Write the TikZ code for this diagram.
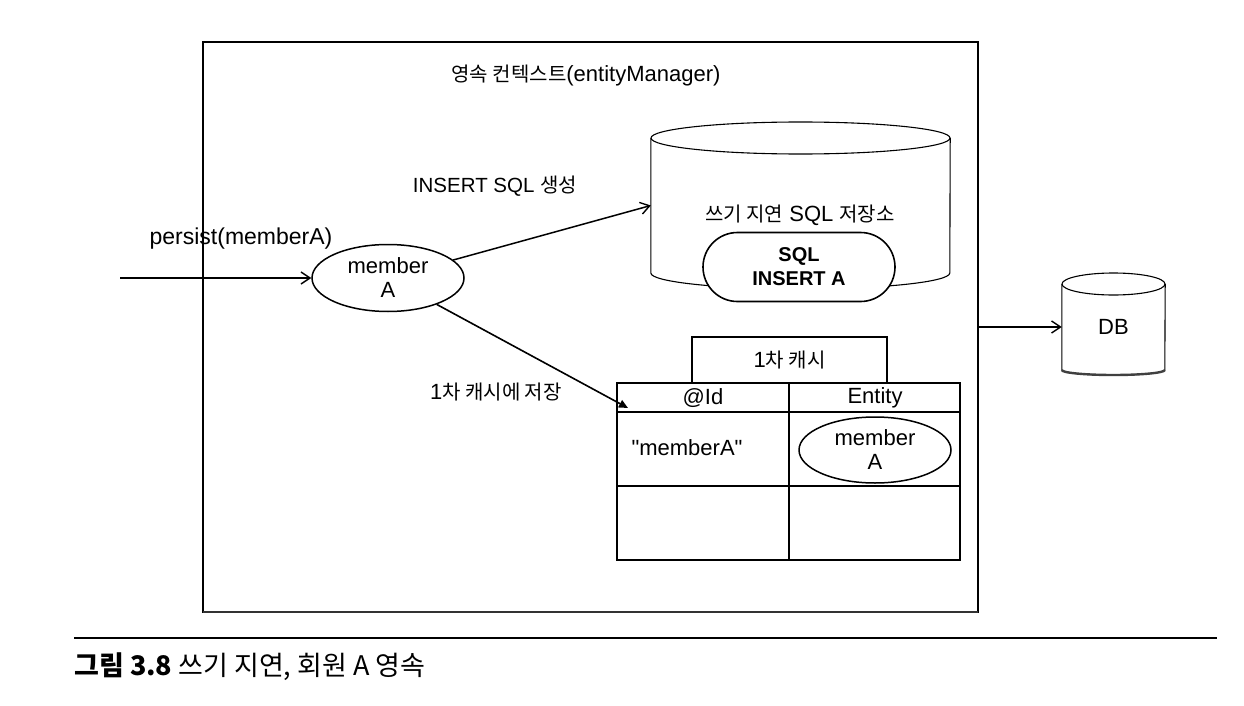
\documentclass[tikz,border=0pt]{standalone}
\usepackage{fontspec}
\setmainfont{Liberation Sans}
\newfontfamily\krfont{Noto Sans CJK KR}
\usetikzlibrary{arrows.meta,shapes.geometric,shapes.misc}
\newcommand\kor[1]{{\krfont\fontsize{20pt}{24pt}\selectfont #1}}

\begin{document}
\begin{tikzpicture}[x=1pt,y=-1pt,
  every node/.style={font=\fontsize{22pt}{24pt}\selectfont, inner sep=0pt, align=center},
  line/.style={line width=1.6pt},
  thinline/.style={line width=1.1pt},
  arr/.style={line width=1.5pt, -{Straight Barb[length=9pt,width=12pt,line width=1.4pt]}},
  ov/.style={ellipse, draw, line width=1.5pt, minimum width=152pt, minimum height=67pt},
]
\useasboundingbox (0,0) rectangle (1244,706);
\fill[white] (0,0) rectangle (1244,706);

% persistence context box
\node[draw, line, minimum width=775pt, minimum height=570pt] (ctx) at (590.5,327) {};
\draw[line width=2.6pt, black!80] (203,612) -- (978,612);
\node (title) at (586,76) {\kor{영속 컨텍스트}(entityManager)};

% write-behind SQL store (cylinder)
\node[minimum width=299pt, minimum height=167pt] (store) at (800.5,205.5) {};
\draw[thinline] (store.west |- 0,138) -- (store.west |- 0,273)
  arc[start angle=180, end angle=360, x radius=149.5pt, y radius=16pt]
  -- (store.east |- 0,138);
\draw[thinline] (800.5,138) ellipse [x radius=149.5pt, y radius=16pt];
\node (storelbl) at (800,215) {\kor{쓰기 지연} SQL \kor{저장소}};
\node[rounded rectangle, draw, line, fill=white, minimum width=192pt, minimum height=69pt,
      font=\bfseries\fontsize{20pt}{24pt}\selectfont] (sql) at (799,267) {SQL\\INSERT A};

% entity member A
\node[ov] (mA) at (388,278) {member\\A};
\coordinate (in) at (120,278);
\draw[arr] (in) -- (mA);
\node[font=\fontsize{23pt}{26pt}\selectfont] (persist) at (241,239) {persist(memberA)};

\draw[arr] (mA) -- (store.west);
\node (lblins) at (495,186) {\fontsize{20.5pt}{24pt}\selectfont INSERT SQL \kor{생성}};

% first-level cache
\node[draw, line, minimum width=195pt, minimum height=46pt] (cachet) at (789.5,360) {1\kor{차 캐시}};
\node[draw, line, minimum width=343pt, minimum height=177pt] (tbl) at (788.5,471.5) {};
\draw[line] (617,412) -- (960,412);
\draw[line] (617,486) -- (960,486);
\draw[thinline] (789,383) -- (789,560);
\node (hid) at (703,398) {@Id};
\node (hent) at (875,398) {Entity};
\node (keyA) at (687,448) {\textquotedbl memberA\textquotedbl};
\node[ov, minimum height=66pt] (eA) at (875,450) {member\\A};
\coordinate (tblin) at (628,408);
\draw[line, -{Triangle[length=9pt,width=8pt]}] (mA) -- (tblin);
\node (lblcache) at (496,392) {1\kor{차 캐시에 저장}};

% DB
\node[minimum width=103pt, minimum height=97pt] (db) at (1113.5,327) {DB};
\draw[thinline] (db.west |- 0,284) -- (db.west |- 0,370)
  arc[start angle=180, end angle=360, x radius=51.5pt, y radius=5pt]
  -- (db.east |- 0,284);
\draw[line width=2.4pt, black!75] (db.west |- 0,370) arc[start angle=180, end angle=360, x radius=51.5pt, y radius=5pt];
\draw[thinline] (1113.5,284) ellipse [x radius=51.5pt, y radius=11pt];
\draw[arr] (ctx.east |- db) -- (db.west);

% caption
\draw[line width=1.3pt] (74,638) -- (1217,638);
\node[anchor=west] (cap) at (74,667) {\krfont\fontsize{27pt}{30pt}\selectfont\textbf{그림 3.8} 쓰기 지연, 회원 A 영속};
\end{tikzpicture}
\end{document}
